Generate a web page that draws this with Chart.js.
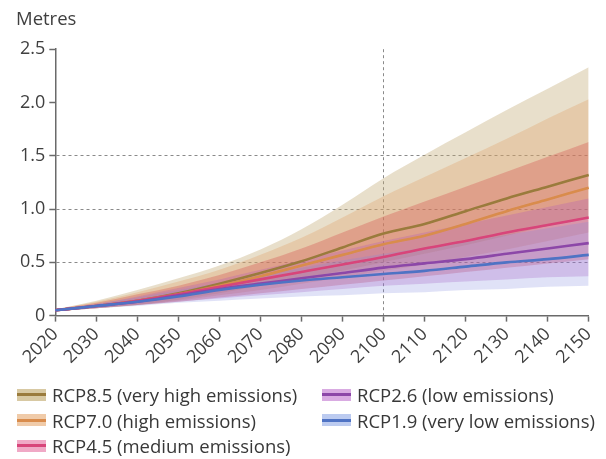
<!DOCTYPE html>
<html>
<head>
<meta charset="utf-8">
<script src="https://cdn.jsdelivr.net/npm/chart.js@4/dist/chart.umd.min.js"></script>
<style>
  html, body { margin: 0; padding: 0; background: #ffffff; }
  #wrap { position: relative; width: 606px; height: 459px; }
  #chart { position: absolute; left: 0; top: 0; }
  #legend {
    position: absolute; left: 17px; top: 382px;
    display: grid; grid-template-columns: 305px 280px; row-gap: 0px;
    font-family: "Open Sans", sans-serif; font-size: 18.5px; color: #383838;
  }
  .item { display: flex; align-items: center; height: 25.5px; white-space: nowrap; }
  .sw { position: relative; width: 29px; height: 12px; margin-right: 6px; }
  .sw i { position: absolute; left: 0; right: 0; top: 4.5px; height: 3px; }
</style>
</head>
<body>
<div id="wrap">
  <canvas id="chart" width="606" height="459"></canvas>
  <div id="legend"></div>
</div>
<script>
// Sea-level rise projections (metres) per emissions scenario, median and likely range
const years = ['2020','2030','2040','2050','2060','2070','2080','2090','2100','2110','2120','2130','2140','2150'];
const yTicks = [0, 0.5, 1.0, 1.5, 2.0, 2.5];

const rcp85Mid = [0.05,0.09,0.14,0.21,0.30,0.40,0.51,0.64,0.77,0.86,0.98,1.10,1.21,1.32];
const rcp85Hi  = [0.06,0.14,0.24,0.35,0.47,0.62,0.81,1.04,1.29,1.51,1.72,1.93,2.13,2.33];
const rcp85Lo  = [0.04,0.07,0.10,0.15,0.21,0.28,0.35,0.42,0.50,0.58,0.66,0.75,0.84,0.93];

const rcp70Mid = [0.05,0.09,0.14,0.20,0.28,0.37,0.47,0.57,0.67,0.75,0.86,0.98,1.09,1.20];
const rcp70Hi  = [0.06,0.13,0.22,0.32,0.43,0.57,0.73,0.92,1.12,1.30,1.48,1.66,1.85,2.03];
const rcp70Lo  = [0.04,0.07,0.10,0.14,0.19,0.24,0.30,0.36,0.42,0.48,0.55,0.62,0.70,0.78];

const rcp45Mid = [0.05,0.09,0.14,0.20,0.27,0.34,0.41,0.48,0.55,0.63,0.70,0.78,0.85,0.92];
const rcp45Hi  = [0.06,0.12,0.20,0.28,0.38,0.50,0.63,0.78,0.93,1.07,1.21,1.35,1.49,1.63];
const rcp45Lo  = [0.04,0.07,0.10,0.13,0.17,0.21,0.25,0.29,0.33,0.37,0.41,0.45,0.49,0.53];

const rcp26Mid = [0.05,0.09,0.13,0.19,0.25,0.30,0.35,0.40,0.45,0.49,0.53,0.58,0.63,0.68];
const rcp26Hi  = [0.06,0.11,0.18,0.26,0.34,0.43,0.52,0.61,0.70,0.78,0.86,0.94,1.02,1.10];
const rcp26Lo  = [0.04,0.07,0.10,0.13,0.16,0.19,0.22,0.25,0.28,0.30,0.32,0.34,0.36,0.37];

const rcp19Mid = [0.05,0.09,0.13,0.18,0.24,0.29,0.33,0.36,0.39,0.42,0.46,0.50,0.53,0.57];
const rcp19Hi  = [0.06,0.11,0.17,0.24,0.31,0.38,0.45,0.52,0.58,0.64,0.70,0.76,0.82,0.88];
const rcp19Lo  = [0.04,0.07,0.09,0.12,0.14,0.16,0.18,0.19,0.21,0.22,0.24,0.25,0.27,0.28];

const scenarios = [
  { name: 'RCP8.5 (very high emissions)', mid: rcp85Mid, hi: rcp85Hi, lo: rcp85Lo,
    line: '#9a7b3c', band: 'rgba(190,165,110,0.36)', sw: '#d8c9a3' },
  { name: 'RCP7.0 (high emissions)', mid: rcp70Mid, hi: rcp70Hi, lo: rcp70Lo,
    line: '#d98c4c', band: 'rgba(225,160,100,0.32)', sw: '#f0cba9' },
  { name: 'RCP4.5 (medium emissions)', mid: rcp45Mid, hi: rcp45Hi, lo: rcp45Lo,
    line: '#d8457a', band: 'rgba(215,80,80,0.34)', sw: '#f0a9c6' },
  { name: 'RCP2.6 (low emissions)', mid: rcp26Mid, hi: rcp26Hi, lo: rcp26Lo,
    line: '#8c47a8', band: 'rgba(170,80,190,0.27)', sw: '#d9abe2' },
  { name: 'RCP1.9 (very low emissions)', mid: rcp19Mid, hi: rcp19Hi, lo: rcp19Lo,
    line: '#4f73c4', band: 'rgba(125,135,220,0.24)', sw: '#bccbf0' }
];

const refYear = '2100';
const gridValues = [0.5, 1.0, 1.5];

const datasets = [];
const n = scenarios.length;
scenarios.forEach((s, i) => {
  // band: upper edge filled down to the lower edge (next dataset)
  datasets.push({
    label: s.name + ' upper', data: s.hi, fill: '+1',
    backgroundColor: s.band, borderWidth: 0, pointRadius: 0,
    cubicInterpolationMode: 'monotone', order: 100 + (n - i) * 2
  });
  datasets.push({
    label: s.name + ' lower', data: s.lo, fill: false,
    borderWidth: 0, pointRadius: 0,
    cubicInterpolationMode: 'monotone', order: 100 + (n - i) * 2 - 1
  });
});
scenarios.forEach((s, i) => {
  datasets.push({
    label: s.name, data: s.mid, fill: false,
    borderColor: s.line, borderWidth: 2.6, pointRadius: 0,
    cubicInterpolationMode: 'monotone', order: 10 + (n - i)
  });
});

const tickFont = { family: '"Open Sans", sans-serif', size: 18 };

new Chart(document.getElementById('chart'), {
  type: 'line',
  data: { labels: years, datasets },
  options: {
    responsive: false,
    animation: false,
    layout: { padding: { left: 16, right: 14, top: 7, bottom: 89 } },
    plugins: {
      legend: { display: false },
      tooltip: { enabled: false },
      filler: { drawTime: 'beforeDatasetsDraw' },
      title: {
        display: true, text: 'Metres', align: 'start',
        color: '#404040',
        font: { family: '"Open Sans", sans-serif', size: 18.5, weight: 'normal' },
        padding: { top: 2, bottom: 18 }
      }
    },
    scales: {
      x: {
        offset: false,
        grid: {
          offset: false,
          color: c => (years[c.index] === refYear ? '#8a8a8a' : 'rgba(0,0,0,0)'),
          lineWidth: 1,
          tickColor: '#6a6a6a', tickLength: 6, tickWidth: 1.5
        },
        border: { display: true, color: '#6a6a6a', width: 1.5, dash: [3, 3] },
        ticks: {
          color: '#404040', font: tickFont,
          minRotation: 45, maxRotation: 45, autoSkip: false, padding: 2
        }
      },
      y: {
        min: 0, max: 2.5,
        afterBuildTicks: axis => { axis.ticks = yTicks.map(v => ({ value: v })); },
        grid: {
          color: c => (gridValues.includes(c.tick.value) ? '#8a8a8a' : 'rgba(0,0,0,0)'),
          lineWidth: 1,
          tickColor: '#6a6a6a', tickLength: 6, tickWidth: 1.5
        },
        border: { display: true, color: '#6a6a6a', width: 1.5, dash: [3, 3] },
        ticks: {
          color: '#404040', font: tickFont, padding: 4,
          callback: v => (v === 0 ? '0' : v.toFixed(1))
        }
      }
    }
  }
});

// legend: band swatch with the median line through it
const legend = document.getElementById('legend');
const legendOrder = [0, 3, 1, 4, 2];
legendOrder.forEach(k => {
  const s = scenarios[k];
  const item = document.createElement('div');
  item.className = 'item';
  const sw = document.createElement('span');
  sw.className = 'sw';
  sw.style.background = s.sw;
  const ln = document.createElement('i');
  ln.style.background = s.line;
  sw.appendChild(ln);
  const tx = document.createElement('span');
  tx.textContent = s.name;
  item.appendChild(sw);
  item.appendChild(tx);
  legend.appendChild(item);
});
</script>
</body>
</html>
